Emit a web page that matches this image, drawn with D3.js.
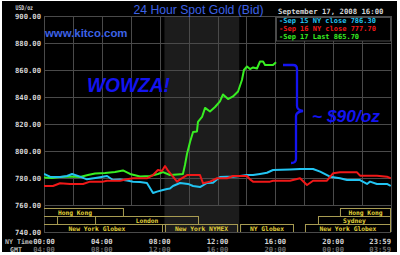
<!DOCTYPE html>
<html>
<head>
<meta charset="utf-8">
<script src="https://cdn.jsdelivr.net/npm/d3@7"></script>
<style>
  html, body { margin: 0; padding: 0; background: #fff; }
  svg { display: block; }
</style>
</head>
<body>
<div id="chart"></div>
<script>
// hours are NY time, values USD/oz
const sep17Hours = [0, 0.55, 1.11, 1.8, 2.49, 3.04, 3.53, 4.22, 4.91, 5.46, 5.95, 6.64, 7.33, 7.88, 8.23, 8.71, 9.2, 9.61, 9.75, 9.89, 10.1, 10.31, 10.58, 10.65, 10.93, 11.14, 11.48, 11.83, 12.17, 12.38, 12.73, 13.07, 13.42, 13.69, 13.83, 14.04, 14.25, 14.46, 14.73, 14.94, 15.15, 15.29, 15.84, 16.05];
const sep17Values = [780.4, 780.0, 780.7, 781.1, 780.7, 782.2, 783.3, 783.7, 784.4, 785.6, 783.0, 781.1, 781.5, 783.0, 784.4, 782.2, 782.6, 783.0, 789.6, 797.8, 806.7, 814.1, 814.5, 821.5, 825.2, 831.9, 829.3, 832.6, 836.7, 841.9, 838.5, 840.4, 844.1, 852.6, 860.0, 862.6, 860.7, 861.9, 861.1, 866.3, 866.3, 863.7, 863.7, 865.7];

const sep15Hours = [0, 0.41, 1.11, 1.59, 1.94, 2.49, 2.97, 3.67, 4.36, 4.77, 5.26, 5.74, 6.16, 6.64, 7.12, 7.33, 7.54, 7.82, 8.23, 8.51, 8.71, 8.92, 9.41, 9.96, 10.31, 10.79, 11.27, 11.69, 12.17, 12.66, 13.07, 13.56, 14.04, 14.46, 14.94, 15.42, 15.84, 17.01, 17.71, 18.61, 19.1, 19.78, 20.47, 20.96, 21.86, 22.34, 22.55, 23.03, 23.72, 23.98];
const sep15Values = [783.0, 781.0, 780.7, 781.5, 783.0, 781.0, 779.0, 780.2, 781.5, 778.5, 778.9, 778.1, 777.3, 777.0, 776.3, 772.6, 768.9, 769.9, 771.1, 771.9, 772.2, 774.1, 776.3, 775.6, 774.1, 773.3, 776.3, 776.5, 780.7, 781.0, 781.0, 781.5, 782.2, 782.2, 783.0, 783.9, 785.9, 786.3, 786.7, 786.7, 784.7, 781.0, 779.8, 778.5, 778.5, 775.6, 777.3, 775.6, 775.6, 774.1];

const sep16Hours = [0, 0.62, 1.11, 1.8, 2.7, 3.18, 4.08, 4.36, 5.26, 5.74, 6.16, 7.12, 7.54, 7.88, 8.16, 8.37, 8.58, 8.92, 9.2, 9.41, 9.89, 10.79, 11.0, 11.48, 11.97, 12.66, 13.07, 14.04, 14.25, 14.46, 15.63, 15.84, 17.01, 17.71, 18.19, 18.61, 19.57, 19.99, 20.47, 21.65, 21.86, 23.03, 23.72, 23.98];
const sep16Values = [774.1, 774.1, 776.1, 775.6, 775.6, 777.3, 777.3, 778.0, 778.0, 779.0, 779.8, 779.8, 782.2, 785.9, 785.2, 788.9, 785.4, 781.0, 777.3, 779.0, 782.2, 782.2, 776.1, 777.3, 779.8, 779.8, 781.5, 781.5, 779.0, 777.3, 777.3, 778.0, 778.0, 779.8, 774.8, 778.0, 778.0, 783.5, 784.2, 784.2, 781.7, 781.7, 781.0, 779.8];

const legendLabels = ["-Sep 15 NY close 786.30", "-Sep 16 NY close 777.70", "-Sep 17 Last 865.70"];
const seriesColors = ["#22c4f2", "#f01818", "#38ee22"];

const yTicks = [740, 760, 780, 800, 820, 840, 860, 880, 900];
const xTickHours = [0, 4, 8, 12, 16, 20, 24];
const nyTimeLabels = ["00:00", "04:00", "08:00", "12:00", "16:00", "20:00", "23:59"];
const gmtLabels = ["04:00", "08:00", "12:00", "16:00", "20:00", "00:00", "03:59"];

// NYMEX pit session (shaded)
const pitSession = [8.33, 13.5];

// market sessions: row, name, start, end (NY hours)
const sessionRows = [0, 0, 1, 1, 1, 2, 2, 2, 2];
const sessionNames = ["Hong Kong", "Hong Kong", "", "London", "Sydney", "New York Globex", "New York NYMEX", "NY Globex", "New York Globex"];
const sessionStarts = [-1.25, 20.47, -1, 3.53, 18.95, -0.9, 8.37, 13.56, 18.05];
const sessionEnds = [5.53, 24, 0.97, 10.72, 24, 8.23, 13.42, 17.29, 24];

const W = 400, H = 255;
const plot = { left: 44, right: 391, top: 16, bottom: 232 };
const mono = "'DejaVu Sans Mono', 'Liberation Mono', monospace";

const svg = d3.select("#chart").append("svg").attr("width", W).attr("height", H);

svg.append("rect").attr("x", 2).attr("y", 1).attr("width", 395).attr("height", 251).attr("fill", "#000");

const x = d3.scaleLinear().domain([0, 24]).range([plot.left, plot.right]);
const y = d3.scaleLinear().domain([740, 900]).range([plot.bottom, plot.top]);

svg.append("clipPath").attr("id", "clip").append("rect")
  .attr("x", plot.left).attr("y", plot.top)
  .attr("width", plot.right - plot.left).attr("height", plot.bottom - plot.top);

// shaded pit hours
svg.append("rect")
  .attr("x", x(pitSession[0])).attr("y", plot.top)
  .attr("width", x(pitSession[1]) - x(pitSession[0])).attr("height", plot.bottom - plot.top)
  .attr("fill", "#1c1c1c");

// grid
const grid = svg.append("g").attr("stroke", "#4a4a4a").attr("stroke-width", 1).attr("shape-rendering", "crispEdges");
grid.selectAll("line.h").data(yTicks).join("line").attr("class", "h")
  .attr("x1", plot.left).attr("x2", plot.right)
  .attr("y1", (d) => Math.round(y(d)) + 0.5).attr("y2", (d) => Math.round(y(d)) + 0.5);
grid.selectAll("line.v").data(d3.range(0, 25, 2)).join("line").attr("class", "v")
  .attr("x1", (d) => Math.round(x(d)) + 0.5).attr("x2", (d) => Math.round(x(d)) + 0.5)
  .attr("y1", plot.top).attr("y2", (d) => (d === 0 || d === 24 ? plot.bottom : y(760)));

// market session boxes
const rowH = (y(740) - y(760) - 3) / 3;
const sessions = sessionNames.map((name, i) => ({ name, row: sessionRows[i], start: sessionStarts[i], end: sessionEnds[i] }));
const sessG = svg.append("g").attr("clip-path", "url(#clip)");
sessG.selectAll("rect").data(sessions).join("rect")
  .attr("x", (d) => x(d.start) + 0.5)
  .attr("y", (d) => y(760) + 3 + d.row * rowH + 0.5)
  .attr("width", (d) => x(d.end) - x(d.start) - 1)
  .attr("height", rowH)
  .attr("fill", "none").attr("stroke", "#a89c52").attr("stroke-width", 1);
sessG.selectAll("text").data(sessions).join("text")
  .attr("x", (d) => x((d.start + d.end) / 2))
  .attr("y", (d) => y(760) + 3 + d.row * rowH + rowH / 2 + 2.5)
  .attr("text-anchor", "middle")
  .attr("font-family", mono).attr("font-size", 6.3).attr("font-weight", "bold")
  .attr("fill", "#e2d23a")
  .text((d) => d.name);

// series
const series = [
  { hours: sep17Hours, values: sep17Values, color: seriesColors[2] },
  { hours: sep15Hours, values: sep15Values, color: seriesColors[0] },
  { hours: sep16Hours, values: sep16Values, color: seriesColors[1] },
];
const line = d3.line().x((d) => x(d[0])).y((d) => y(d[1]));
svg.append("g").attr("clip-path", "url(#clip)").selectAll("path").data(series).join("path")
  .attr("d", (s) => line(s.hours.map((h, i) => [h, s.values[i]])))
  .attr("fill", "none").attr("stroke", (s) => s.color).attr("stroke-width", 2).attr("stroke-linejoin", "round");

// y axis labels
svg.append("g").selectAll("text").data(yTicks).join("text")
  .attr("x", 41).attr("y", (d) => y(d) + 3)
  .attr("text-anchor", "end")
  .attr("font-family", mono).attr("font-size", 7.2).attr("font-weight", "bold").attr("fill", "#d4d4d4")
  .text(d3.format(".2f"));
svg.append("text").attr("x", 15.5).attr("y", 9.5)
  .attr("font-family", mono).attr("font-size", 6.5).attr("font-weight", "bold").attr("fill", "#d4d4d4")
  .attr("textLength", 17.5).attr("lengthAdjust", "spacingAndGlyphs")
  .text("USD/oz");

// x axis labels
const xl = svg.append("g").attr("font-family", mono).attr("font-size", 7.2).attr("font-weight", "bold");
xl.selectAll("text.ny").data(xTickHours).join("text").attr("class", "ny")
  .attr("x", (d) => (d === 24 ? x(d) : x(d))).attr("y", 243.5)
  .attr("text-anchor", (d) => (d === 24 ? "end" : "middle"))
  .attr("fill", "#d4d4d4")
  .text((d, i) => nyTimeLabels[i]);
xl.selectAll("text.gmt").data(xTickHours).join("text").attr("class", "gmt")
  .attr("x", (d) => x(d)).attr("y", 251.5)
  .attr("text-anchor", (d) => (d === 24 ? "end" : "middle"))
  .attr("fill", "#6e6e6e")
  .text((d, i) => gmtLabels[i]);
svg.append("text").attr("x", 5).attr("y", 243.5)
  .attr("font-family", mono).attr("font-size", 6.6).attr("font-weight", "bold").attr("fill", "#bdbdbd")
  .text("NY Time");
svg.append("text").attr("x", 10).attr("y", 251.5)
  .attr("font-family", mono).attr("font-size", 6.6).attr("font-weight", "bold").attr("fill", "#bdbdbd")
  .text("GMT");

// title and site
svg.append("text").attr("x", 198.5).attr("y", 14)
  .attr("text-anchor", "middle")
  .attr("font-family", "'Liberation Sans', Arial, sans-serif").attr("font-size", 12.2)
  .attr("fill", "#3d62e6")
  .text("24 Hour Spot Gold (Bid)");
svg.append("text").attr("x", 45).attr("y", 36.5)
  .attr("font-family", "'Liberation Sans', Arial, sans-serif").attr("font-size", 11.4).attr("font-weight", "bold")
  .attr("fill", "#3d62e6")
  .text("www.kitco.com");
svg.append("text").attr("x", 278).attr("y", 14)
  .attr("font-family", mono).attr("font-size", 7.3).attr("font-weight", "bold").attr("fill", "#d4d4d4")
  .text("September 17, 2008 16:00");

// legend
const lg = svg.append("g");
lg.append("rect").attr("x", 276.5).attr("y", 17.5).attr("width", 114).attr("height", 23.5)
  .attr("fill", "#000").attr("stroke", "#4a4a4a");
lg.selectAll("text").data(legendLabels).join("text")
  .attr("x", 279).attr("y", (d, i) => 22.5 + i * 8)
  .attr("font-family", mono).attr("font-size", 7).attr("font-weight", "bold")
  .attr("fill", (d, i) => seriesColors[i])
  .text((d) => d);

// annotations
svg.append("text").attr("x", 87).attr("y", 92)
  .attr("font-family", "'Liberation Sans', Arial, sans-serif").attr("font-size", 20.5)
  .attr("font-weight", "bold").attr("font-style", "italic")
  .attr("textLength", 83).attr("lengthAdjust", "spacingAndGlyphs")
  .attr("fill", "#1414f0")
  .text("WOWZA!");
svg.append("path")
  .attr("d", "M283,65 H293 Q297,65 297,69 V106 Q297,110 303,111 Q296,112 296,116 V159 Q296,163 291,163")
  .attr("fill", "none").attr("stroke", "#1414f0").attr("stroke-width", 2.3);
svg.append("text").attr("x", 312).attr("y", 122)
  .attr("font-family", "'Liberation Sans', Arial, sans-serif").attr("font-size", 17)
  .attr("font-weight", "bold").attr("font-style", "italic")
  .attr("textLength", 68).attr("lengthAdjust", "spacingAndGlyphs")
  .attr("fill", "#1414f0")
  .text("~ $90/oz");
</script>
</body>
</html>
